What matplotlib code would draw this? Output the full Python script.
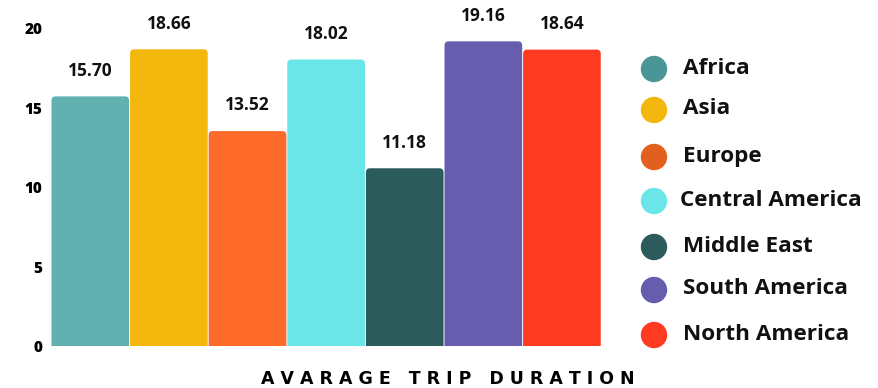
import matplotlib.pyplot as plt
from matplotlib.patches import FancyBboxPatch, Ellipse

regions = ['Africa', 'Asia', 'Europe', 'Central America', 'Middle East',
           'South America', 'North America']
durations = [15.70, 18.66, 13.52, 18.02, 11.18, 19.16, 18.64]
bar_colors = ['#63b0b0', '#f4b70d', '#fd6a29', '#6ae6e8', '#2c5b5b',
              '#665daf', '#fe3a21']
dot_colors = ['#4a9595', '#f4b70d', '#e35f20', '#6ae6e8', '#2c5b5b',
              '#665daf', '#fe3a21']
yticks = [0, 5, 10, 15, 20]

FONT = 'Open Sans'

fig = plt.figure(figsize=(8.79, 3.88), dpi=100)
ax = fig.add_axes([0.058, 0.108, 0.626, 0.892])
ax.set_xlim(-0.5, len(regions) - 0.5)
ax.set_ylim(0, 21.76)

# rounded-top bars; the rounded bottom sits below the axis and is clipped
for i, (v, c) in enumerate(zip(durations, bar_colors)):
    box = FancyBboxPatch((i - 0.5 + 0.006, -1), 1 - 0.012, v + 1,
                         boxstyle='round,pad=0,rounding_size=0.05',
                         mutation_aspect=5.5, fc=c, ec='none')
    ax.add_patch(box)
    ax.annotate(f'{v:.2f}', (i, v), xytext=(0, 12), textcoords='offset points',
                ha='center', va='bottom', fontsize=12.5, fontweight='bold',
                family=FONT, color='#111111')

ax.set_xticks([])
ax.set_yticks(yticks)
ax.tick_params(axis='y', length=0, pad=6)
for lbl in ax.get_yticklabels():
    lbl.set_fontweight('heavy')
    lbl.set_fontsize(11)
    lbl.set_family(FONT)
for s in ax.spines.values():
    s.set_visible(False)

# legend drawn by hand: coloured dots and labels
leg_y = [69, 110, 157, 201, 247, 290, 335]
leg_x = [683, 683, 683, 680, 683, 683, 683]
for name, c, py, px in zip(regions, dot_colors, leg_y, leg_x):
    fy = 1 - py / 388
    fig.patches.append(Ellipse((654 / 879, fy), 25 / 879, 25 / 388, color=c,
                               transform=fig.transFigure, figure=fig))
    fig.text(px / 879, 1 - (py + 4.5) / 388, name, ha='left', va='baseline',
             fontsize=16.2, fontweight='bold', family=FONT, color='#111111')

fig.text(448 / 879, 1 - 379 / 388,
         'A V A R A G E   T R I P   D U R A T I O N',
         ha='center', va='center', fontsize=12.5, fontweight='heavy',
         family='DejaVu Sans', color='#000000')

fig.savefig('out.png', dpi=100, facecolor='white')
